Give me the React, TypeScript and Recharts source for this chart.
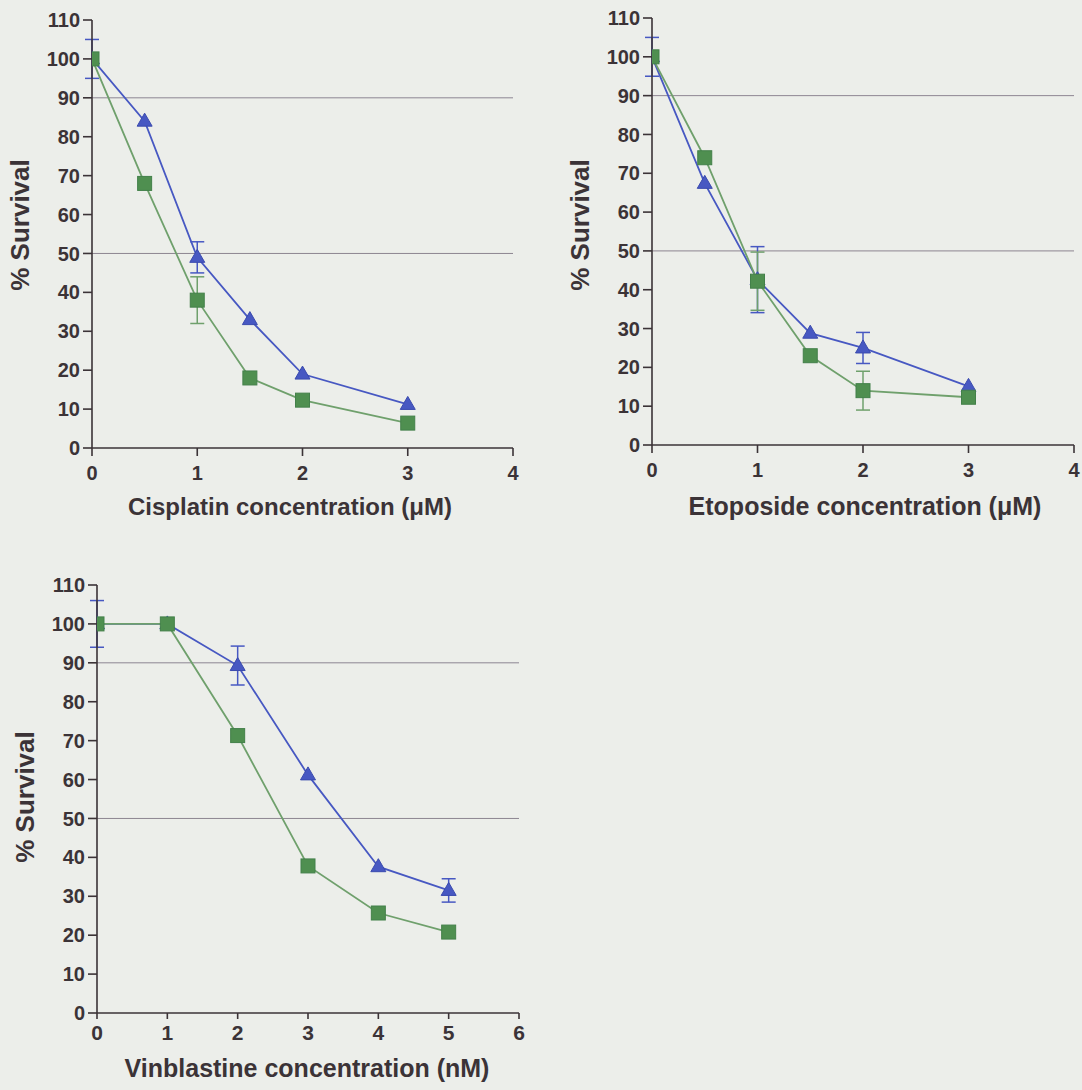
import React from 'react';
import { LineChart, Line, XAxis, YAxis, ReferenceLine, ErrorBar, Label } from 'recharts';

// Cisplatin panel
const cisplatinDose = [0, 0.5, 1, 1.5, 2, 3];
const cisplatinBlue = [100, 84, 49, 33, 19, 11.2];
const cisplatinGreen = [100, 68, 38, 18, 12.3, 6.4];
const cisplatinBlueErr = [5, 0, 4, 0, 0, 0];
const cisplatinGreenErr = [0, 0, 6, 0, 0, 0];

// Etoposide panel
const etoposideDose = [0, 0.5, 1, 1.5, 2, 3];
const etoposideBlue = [100, 67.4, 42.6, 28.8, 25, 15.1];
const etoposideGreen = [100, 74, 42.2, 23, 14, 12.3];
const etoposideBlueErr = [5, 0, 8.5, 0, 4, 0];
const etoposideGreenErr = [0, 0, 7.5, 0, 5, 0];

// Vinblastine panel
const vinblastineDose = [0, 1, 2, 3, 4, 5];
const vinblastineBlue = [100, 100, 89.3, 61.2, 37.6, 31.5];
const vinblastineGreen = [100, 100, 71.3, 37.8, 25.7, 20.8];
const vinblastineBlueErr = [6, 0, 5, 0, 0, 3];
const vinblastineGreenErr = [0, 0, 1.5, 0, 0, 0];

const yTicks = [0, 10, 20, 30, 40, 50, 60, 70, 80, 90, 100, 110];
const uMTicks = [0, 1, 2, 3, 4];
const nMTicks = [0, 1, 2, 3, 4, 5, 6];
const cutoffLines = [90, 50];

const buildRows = (dose: number[], blue: number[], green: number[], be: number[], ge: number[]) =>
  dose.map((d, i) => ({
    dose: d,
    blue: blue[i],
    green: green[i],
    blueErr: be[i] || undefined,
    greenErr: ge[i] || undefined,
  }));

const cisplatinRows = buildRows(cisplatinDose, cisplatinBlue, cisplatinGreen, cisplatinBlueErr, cisplatinGreenErr);
const etoposideRows = buildRows(etoposideDose, etoposideBlue, etoposideGreen, etoposideBlueErr, etoposideGreenErr);
const vinblastineRows = buildRows(vinblastineDose, vinblastineBlue, vinblastineGreen, vinblastineBlueErr, vinblastineGreenErr);

const FONT = '"Liberation Sans", Arial, Helvetica, sans-serif';
const INK = '#3b3337';
const BLUE = '#4758c2';
const GREEN = '#4f8f50';
const GREEN_LINE = '#6fa06c';

const TriangleDot = (props: any) => {
  const { cx, cy, index } = props;
  if (cx == null || cy == null) return <g key={`t-${index}`} />;
  return (
    <polygon
      key={`t-${index}`}
      points={`${cx},${cy - 8} ${cx - 7.5},${cy + 5} ${cx + 7.5},${cy + 5}`}
      fill={BLUE}
      stroke="#3a4aae"
      strokeWidth={1}
    />
  );
};

const SquareDot = (props: any) => {
  const { cx, cy, index } = props;
  if (cx == null || cy == null) return <g key={`s-${index}`} />;
  return (
    <rect
      key={`s-${index}`}
      x={cx - 7}
      y={cy - 7}
      width={14}
      height={14}
      fill={GREEN}
      stroke="#43804a"
      strokeWidth={1}
    />
  );
};

interface PanelProps {
  rows: any[];
  xTicks: number[];
  xMax: number;
  xTitle: string;
  xTitleFont: number;
  left: number;
  top: number;
  width: number;
  height: number;
  margin: { top: number; right: number };
  yAxisWidth: number;
  xAxisHeight: number;
  xTickSize: number;
  xTickMargin: number;
  xTickFont: number;
  yTitleX: number;
  yTitleY: number;
  xTitleX: number;
  xTitleY: number;
}

const SurvivalPanel: React.FC<PanelProps> = (p) => {
  const yTitle = () => (
    <text
      x={p.yTitleX}
      y={p.yTitleY}
      transform={`rotate(-90, ${p.yTitleX}, ${p.yTitleY})`}
      textAnchor="middle"
      dominantBaseline="central"
      fontFamily={FONT}
      fontWeight="bold"
      fontSize={26}
      fill={INK}
    >
      % Survival
    </text>
  );
  const xTitle = () => (
    <text
      x={p.xTitleX}
      y={p.xTitleY}
      textAnchor="middle"
      fontFamily={FONT}
      fontWeight="bold"
      fontSize={p.xTitleFont}
      fill={INK}
    >
      {p.xTitle}
    </text>
  );

  return (
    <div style={{ position: 'absolute', left: p.left, top: p.top }}>
      <LineChart
        width={p.width}
        height={p.height}
        data={p.rows}
        margin={{ top: p.margin.top, right: p.margin.right, left: 0, bottom: 0 }}
      >
        <XAxis
          dataKey="dose"
          type="number"
          domain={[0, p.xMax]}
          ticks={p.xTicks}
          allowDataOverflow
          height={p.xAxisHeight}
          stroke={INK}
          strokeWidth={1.6}
          tickSize={p.xTickSize}
          tickMargin={p.xTickMargin}
          tick={{ fontSize: p.xTickFont, fontWeight: 'bold', fill: INK, fontFamily: FONT }}
        >
          <Label content={xTitle} />
        </XAxis>
        <YAxis
          type="number"
          domain={[0, 110]}
          ticks={yTicks}
          width={p.yAxisWidth}
          stroke={INK}
          strokeWidth={1.6}
          tickSize={9}
          tickMargin={3}
          interval={0}
          tick={{ fontSize: 20, fontWeight: 'bold', fill: INK, fontFamily: FONT }}
        >
          <Label content={yTitle} />
        </YAxis>
        {cutoffLines.map((v) => (
          <ReferenceLine key={v} y={v} stroke="#8d8592" strokeWidth={1} />
        ))}
        <Line
          dataKey="blue"
          stroke={BLUE}
          strokeWidth={1.8}
          dot={TriangleDot}
          activeDot={false}
          isAnimationActive={false}
        >
          <ErrorBar dataKey="blueErr" width={7} stroke={BLUE} strokeWidth={1.5} direction="y" />
        </Line>
        <Line
          dataKey="green"
          stroke={GREEN_LINE}
          strokeWidth={1.8}
          dot={SquareDot}
          activeDot={false}
          isAnimationActive={false}
        >
          <ErrorBar dataKey="greenErr" width={7} stroke={GREEN_LINE} strokeWidth={1.5} direction="y" />
        </Line>
      </LineChart>
    </div>
  );
};

export default function App() {
  return (
    <div
      style={{
        position: 'absolute',
        left: 0,
        top: 0,
        width: 1082,
        height: 1090,
        background: '#eceeea',
        overflow: 'hidden',
      }}
    >
      <SurvivalPanel
        rows={cisplatinRows}
        xTicks={uMTicks}
        xMax={4}
        xTitle="Cisplatin concentration (μM)"
        xTitleFont={24}
        left={0}
        top={0}
        width={540}
        height={530}
        margin={{ top: 20, right: 27 }}
        yAxisWidth={92}
        xAxisHeight={82}
        xTickSize={8}
        xTickMargin={10}
        xTickFont={20}
        yTitleX={20}
        yTitleY={225}
        xTitleX={290}
        xTitleY={515}
      />
      <SurvivalPanel
        rows={etoposideRows}
        xTicks={uMTicks}
        xMax={4}
        xTitle="Etoposide concentration (μM)"
        xTitleFont={25}
        left={540}
        top={0}
        width={542}
        height={530}
        margin={{ top: 18, right: 8 }}
        yAxisWidth={112}
        xAxisHeight={85}
        xTickSize={8}
        xTickMargin={10}
        xTickFont={20}
        yTitleX={40}
        yTitleY={225}
        xTitleX={325}
        xTitleY={515}
      />
      <SurvivalPanel
        rows={vinblastineRows}
        xTicks={nMTicks}
        xMax={6}
        xTitle="Vinblastine concentration (nM)"
        xTitleFont={25}
        left={0}
        top={540}
        width={540}
        height={550}
        margin={{ top: 45, right: 21 }}
        yAxisWidth={97}
        xAxisHeight={77}
        xTickSize={6}
        xTickMargin={6}
        xTickFont={21}
        yTitleX={25}
        yTitleY={257}
        xTitleX={307}
        xTitleY={537}
      />
    </div>
  );
}
